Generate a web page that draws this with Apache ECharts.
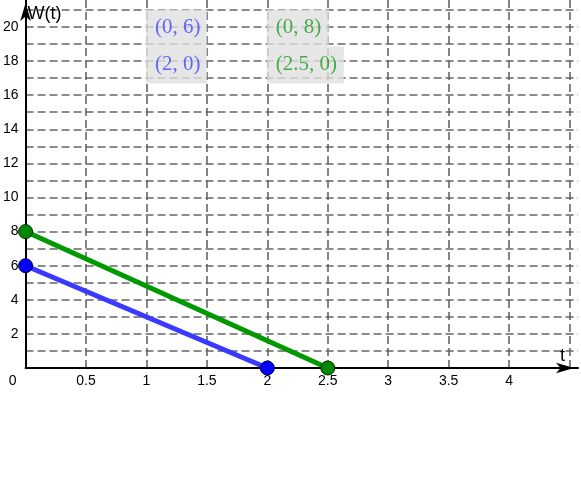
<!DOCTYPE html>
<html>
<head>
    <meta charset="utf-8" />
    <title>W(t)</title>
    <script src="https://cdn.jsdelivr.net/npm/echarts@6/dist/echarts.min.js"></script>
    <style>
        html, body { margin: 0; padding: 0; background: #fff; }
        #main { width: 581px; height: 492px; }
    </style>
</head>
<body>
<div id="main"></div>
<script type="text/javascript">
    // two lines, each given by its two end points
    var bluePoints = [[0, 6], [2, 0]];
    var greenPoints = [[0, 8], [2.5, 0]];

    // axis ranges / ticks
    var xMin = 0, xMax = 4.57, xStep = 0.5, xLastLabel = 4;
    var yMin = 0, yMax = 21.58, yStep = 1, yLabelStep = 2, yLastLabel = 20;

    // where the coordinate text boxes sit (top-left corner, in data units)
    var blueBoxAt = [[1, 21], [1, 18.83]];
    var greenBoxAt = [[2, 21], [2, 18.83]];

    function pointText(p) {
        return '(' + p[0] + ', ' + p[1] + ')';
    }

    function boxSeries(anchors, points, color, widths) {
        return {
            type: 'scatter',
            symbolSize: 1,
            itemStyle: { color: 'rgba(0,0,0,0)' },
            silent: true,
            z: 10,
            data: anchors.map(function (a, i) {
                return {
                    value: a,
                    label: {
                        show: true,
                        position: [0, 0],
                        align: 'left',
                        verticalAlign: 'top',
                        formatter: pointText(points[i]),
                        fontFamily: 'Liberation Serif',
                        fontSize: 21,
                        color: color,
                        backgroundColor: '#e0e0e0',
                        padding: [0, 0, 0, 9],
                        width: widths[i],
                        height: 37,
                        lineHeight: 37
                    }
                };
            })
        };
    }

    var myChart = echarts.init(document.getElementById('main'));
    var gridLine = {
        show: true,
        showMinLine: false,
        showMaxLine: false,
        lineStyle: { color: '#666', width: 1.6, type: [8, 4] }
    };
    var option = {
        animation: false,
        grid: { left: 25, right: 0, top: 0, bottom: 124 },
        xAxis: {
            type: 'value',
            min: xMin,
            max: xMax,
            interval: xStep,
            name: 't',
            nameLocation: 'end',
            nameGap: -18,
            nameTextStyle: {
                fontFamily: 'Liberation Sans', fontSize: 18, color: '#000',
                align: 'left', verticalAlign: 'bottom', padding: [0, 0, 3, 0]
            },
            axisLine: {
                onZero: false,
                symbol: ['none', 'arrow'],
                symbolSize: [8, 18],
                symbolOffset: [0, -4],
                lineStyle: { color: '#000', width: 2 }
            },
            axisTick: { show: false },
            axisLabel: {
                margin: 6,
                fontFamily: 'Liberation Sans',
                fontSize: 14,
                color: '#000',
                formatter: function (v) {
                    if (v > xLastLabel + 1e-6) return '';
                    if (Math.abs(v / xStep - Math.round(v / xStep)) > 1e-6) return '';
                    if (v === 0) return '{o|0}';
                    return String(v);
                },
                rich: { o: { padding: [0, 26, 0, 0], fontSize: 14, fontFamily: 'Liberation Sans' } }
            },
            splitLine: gridLine
        },
        yAxis: {
            type: 'value',
            min: yMin,
            max: yMax,
            interval: yStep,
            name: 'W(t)',
            nameLocation: 'end',
            nameGap: -23,
            nameTextStyle: {
                fontFamily: 'Liberation Sans', fontSize: 18, color: '#000',
                align: 'left', padding: [0, 0, 0, 2]
            },
            axisLine: {
                onZero: false,
                symbol: ['none', 'arrow'],
                symbolSize: [8, 18],
                symbolOffset: [0, -3],
                lineStyle: { color: '#000', width: 2 }
            },
            axisTick: { show: false },
            axisLabel: {
                margin: 7,
                fontFamily: 'Liberation Sans',
                fontSize: 14,
                color: '#000',
                formatter: function (v) {
                    if (v <= 0 || v > yLastLabel + 1e-6) return '';
                    if (Math.abs(v / yLabelStep - Math.round(v / yLabelStep)) > 1e-6) return '';
                    return String(v);
                }
            },
            splitLine: gridLine
        },
        series: [
            {
                name: 'blue',
                type: 'line',
                data: bluePoints,
                clip: false,
                symbol: 'circle',
                symbolSize: 14,
                lineStyle: { color: '#3a3aff', width: 5 },
                itemStyle: { color: '#0000ff', borderColor: '#00003a', borderWidth: 1 },
                z: 3
            },
            {
                name: 'green',
                type: 'line',
                data: greenPoints,
                clip: false,
                symbol: 'circle',
                symbolSize: 14,
                lineStyle: { color: '#009900', width: 5 },
                itemStyle: { color: '#008800', borderColor: '#002200', borderWidth: 1 },
                z: 4
            },
            boxSeries(blueBoxAt, bluePoints, '#4444ff', [52, 52]),
            boxSeries(greenBoxAt, greenPoints, '#1e9e1e', [53, 68])
        ]
    };
    myChart.setOption(option);
</script>
</body>
</html>
